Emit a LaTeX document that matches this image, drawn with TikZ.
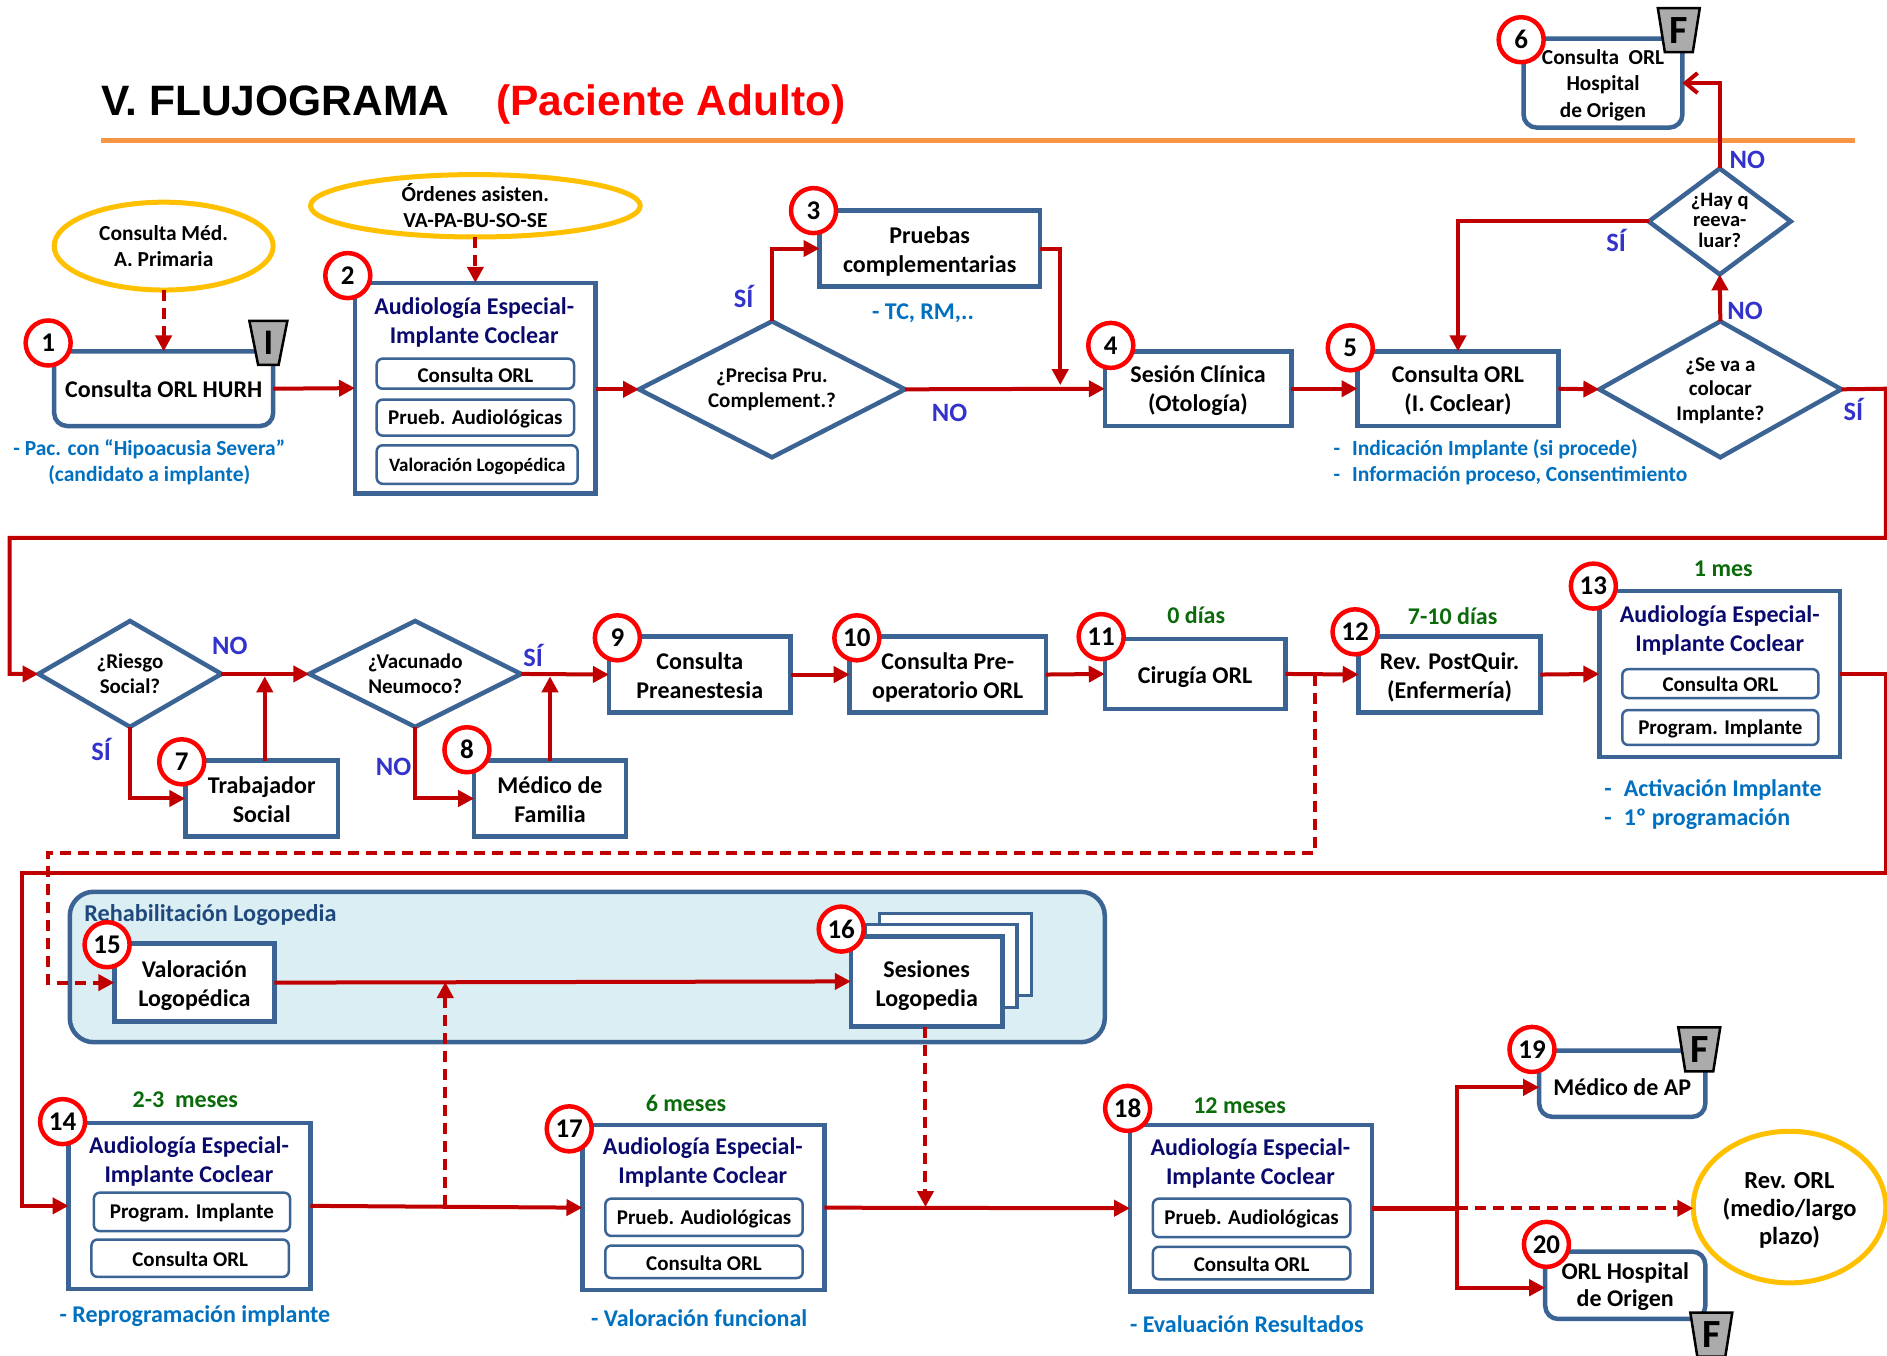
\documentclass[tikz,border=0pt]{standalone}
\usepackage{fontspec}
\setmainfont{Carlito}
\newfontfamily\titlefont{Liberation Sans}
\usetikzlibrary{shapes.geometric,arrows.meta,calc}
\definecolor{bxblue}{HTML}{3B6494}
\definecolor{rline}{HTML}{C00000}
\definecolor{gold}{HTML}{FFC000}
\definecolor{note}{HTML}{0070C0}
\definecolor{yn}{HTML}{3333CC}
\definecolor{grn}{HTML}{0B6B0B}
\definecolor{navyt}{HTML}{0A0A6E}
\definecolor{orangeln}{HTML}{F79646}
\definecolor{grp}{HTML}{DAEEF3}
\definecolor{grpt}{HTML}{1F497D}
\tikzset{
  x=1.2034pt,y=-1.2034pt,
  dn/.style={execute at begin node={\rule{0pt}{#1}}},
  basebox/.style={draw=bxblue,fill=white,line width=4.5pt,inner sep=0pt,outer sep=0pt,align=center,
     font=\bfseries\fontsize{24}{29}\selectfont},
  sqbox/.style={basebox,rectangle},
  rdbox/.style={basebox,rectangle,rounded corners=13pt},
  inbox/.style={draw=bxblue,fill=white,line width=2.5pt,inner sep=0pt,outer sep=0pt,rectangle,rounded corners=6pt,align=center,
     dn=17pt,font=\bfseries\fontsize{21}{24}\selectfont},
  dmd/.style={diamond,draw=bxblue,fill=white,line width=4.5pt,inner sep=0pt,outer sep=0pt,aspect=1.8},
  dtext/.style={align=center,inner sep=0pt,font=\bfseries\fontsize{21}{24.5}\selectfont},
  oval/.style={ellipse,draw=gold,fill=white,line width=5pt,inner sep=0pt,outer sep=0pt,align=center,
     font=\bfseries\fontsize{21.4}{26}\selectfont},
  numc/.style={circle,draw=red,fill=white,line width=4.5pt,inner sep=0pt,outer sep=0pt,minimum size=45pt,
     font=\bfseries\fontsize{27}{27}\selectfont},
  bdg/.style={trapezium,trapezium stretches=true,shape border rotate=180,draw=black,fill=black!33,line width=2.5pt,
     inner sep=0pt,outer sep=0pt,minimum width=42pt,minimum height=44pt,trapezium angle=80,
     font=\bfseries\fontsize{40}{40}\selectfont},
  notet/.style={text=note,align=center,inner sep=0pt,font=\bfseries\fontsize{21.5}{26}\selectfont},
  noteb/.style={notet,font=\bfseries\fontsize{24}{29}\selectfont},
  titlet/.style={text=navyt,align=center,inner sep=0pt,font=\bfseries\fontsize{24}{29}\selectfont},
  grnt/.style={text=grn,inner sep=0pt,font=\bfseries\fontsize{24}{26}\selectfont},
  ynt/.style={text=yn,inner sep=0pt,font=\bfseries\fontsize{26.5}{26}\selectfont},
  conn/.style={draw=rline,line width=4pt,-{Triangle[length=16pt,width=16pt]}},
  plainln/.style={draw=rline,line width=4pt},
  dconn/.style={conn,dash pattern=on 11pt off 7pt},
}
\newcommand\ml[2][3.4pt]{\raisebox{-#1}[\height][\depth]{\begin{tabular}{@{}c@{}}#2\end{tabular}}}
\newcommand\bx[6][]{%
  \pgfmathsetmacro\bxw{(#5-#3)*1.2034}%
  \pgfmathsetmacro\bxh{(#6-#4)*1.2034}%
  \pgfmathsetmacro\bxx{(#3+#5)/2}%
  \pgfmathsetmacro\bxy{(#4+#6)/2}%
  \node[#1,minimum width=\bxw pt,minimum height=\bxh pt] (#2) at (\bxx,\bxy)}
\begin{document}
\begin{tikzpicture}
\useasboundingbox (0,0) rectangle (1568,1126);
\fill[white] (0,0) rectangle (1568,1126);
\clip (0,0) rectangle (1568,1126);

% title
\node[anchor=west,inner sep=0pt,font=\titlefont\bfseries\fontsize{42.5}{42.5}\selectfont] (ttl1) at (84,84) {V. FLUJOGRAMA};
\node[anchor=west,inner sep=0pt,text=red,font=\titlefont\bfseries\fontsize{42.5}{42.5}\selectfont] (ttl2) at (412,87) {(Paciente Adulto)};
\coordinate (ol) at (84,117); \coordinate (or) at (1541,117);
\draw[orangeln,line width=5pt] (ol) -- (or);

% group
\bx[rectangle,draw=bxblue,fill=grp,line width=4.5pt,rounded corners=24pt,inner sep=0pt]{grpbox}{58}{741}{918}{866} {};
\node[anchor=west,text=grpt,inner sep=0pt,font=\bfseries\fontsize{24.2}{26}\selectfont] (grpl) at (70,760.5) {Rehabilitación Logopedia};

% ovals
\bx[oval]{e1}{45}{168}{227}{241} {Consulta Méd.\\A. Primaria};
\bx[oval]{e2}{258}{146}{532}{196} {Órdenes asisten.\\VA-PA-BU-SO-SE};
\bx[oval,font=\bfseries\fontsize{24.5}{28}\selectfont]{e3}{1407}{940}{1567}{1066} {\ml{Rev. ORL\\(medio/largo\\plazo)}};

% boxes row 1
\bx[rdbox]{n1}{45}{292}{227}{354} {Consulta ORL HURH};
\bx[sqbox]{n2}{295}{235}{495}{410} {};
\node[titlet] (t2) at (394,268) {Audiología Especial-\\Implante Coclear};
\bx[inbox]{i2a}{313}{298}{477}{323} {Consulta ORL};
\bx[inbox]{i2b}{313}{332}{477}{362} {Prueb. Audiológicas};
\bx[inbox,font=\bfseries\fontsize{19}{24}\selectfont]{i2c}{313}{370}{480}{402} {Valoración Logopédica};
\bx[sqbox]{n3}{681}{175}{864}{238} {\ml{Pruebas\\complementarias}};
\bx[sqbox]{n4}{918}{292}{1073}{354} {\ml[2.6pt]{Sesión Clínica\\(Otología)}};
\bx[sqbox]{n5}{1128}{292}{1295}{354} {\ml[2.6pt]{Consulta ORL\\(I. Coclear)}};
\bx[rdbox,font=\bfseries\fontsize{21.3}{26.5}\selectfont]{n6}{1266}{32}{1398}{106} {\ml[2.4pt]{Consulta\ \ ORL\\Hospital\\de Origen}};

% diamonds
\bx[dmd]{d1}{531}{267}{752}{380} {};
\node[dtext] (d1t) at (d1) {¿Precisa Pru.\\Complement.?};
\bx[dmd]{d2}{1329}{267}{1530}{380} {};
\node[dtext] (d2t) at ($(d2)+(0,1)$) {¿Se va a\\colocar\\Implante?};
\bx[dmd]{d3}{1370}{140}{1488}{228} {};
\node[dtext,font=\bfseries\fontsize{20.5}{20.5}\selectfont] (d3t) at ($(d3)+(0,-1)$) {¿Hay q\\reeva-\\luar?};
\bx[dmd]{d4}{32}{516}{184}{604} {};
\node[dtext] (d4t) at (d4) {¿Riesgo\\Social?};
\bx[dmd]{d5}{257}{516}{433}{604} {};
\node[dtext] (d5t) at (d5) {¿Vacunado\\Neumoco?};

% boxes row 2
\bx[sqbox]{n7}{154}{632}{281}{695} {\ml{Trabajador\\Social}};
\bx[sqbox]{n8}{394}{632}{520}{695} {\ml{Médico de\\Familia}};
\bx[sqbox]{n9}{506}{529}{657}{592} {\ml{Consulta\\Preanestesia}};
\bx[sqbox]{n10}{706}{529}{869}{592} {\ml{Consulta Pre-\\operatorio ORL}};
\bx[sqbox,dn=23pt]{n11}{918}{531}{1068}{589} {Cirugía ORL};
\bx[sqbox]{n12}{1129}{529}{1280}{592} {\ml{Rev. PostQuir.\\(Enfermería)}};
\bx[sqbox]{n13}{1329}{491}{1529}{629} {};
\node[titlet] (t13) at (1429,524) {Audiología Especial-\\Implante Coclear};
\bx[inbox]{i13a}{1348}{556}{1511}{580} {Consulta ORL};
\bx[inbox]{i13b}{1348}{590}{1511}{619} {Program. Implante};

% rehab
\bx[sqbox]{n15}{95}{784}{228}{849} {\ml{Valoración\\Logopédica}};
\bx[sqbox,line width=3.5pt]{n16c}{731}{759}{857}{827} {};
\bx[sqbox,line width=3.5pt]{n16b}{719}{768}{845}{837} {};
\bx[sqbox]{n16}{707}{778}{833}{853} {\ml[4.4pt]{Sesiones\\Logopedia}};

% row 3
\bx[sqbox]{n14}{57}{933}{258}{1071} {};
\node[titlet] (t14) at (157,965) {Audiología Especial-\\Implante Coclear};
\bx[inbox]{i14a}{78}{991}{241}{1023} {Program. Implante};
\bx[inbox]{i14b}{76}{1030}{240}{1061} {Consulta ORL};
\bx[sqbox]{n17}{484}{935}{685}{1072} {};
\node[titlet] (t17) at (584,966) {Audiología Especial-\\Implante Coclear};
\bx[inbox]{i17a}{503}{996}{667}{1027} {Prueb. Audiológicas};
\bx[inbox]{i17b}{503}{1035}{667}{1062} {Consulta ORL};
\bx[sqbox]{n18}{939}{935}{1140}{1073} {};
\node[titlet] (t18) at (1039,967) {Audiología Especial-\\Implante Coclear};
\bx[inbox]{i18a}{958}{996}{1122}{1028} {Prueb. Audiológicas};
\bx[inbox]{i18b}{958}{1036}{1122}{1063} {Consulta ORL};
\bx[rdbox,dn=23pt]{n19}{1279}{873}{1417}{928} {Médico de AP};
\bx[rdbox,font=\bfseries\fontsize{24}{26.5}\selectfont]{n20}{1284}{1040}{1417}{1096} {\ml[2.4pt]{ORL Hospital\\de Origen}};

% junction coordinates
\coordinate (j3) at (881,320);
\coordinate (jr1) at (1567,323);
\coordinate (jr2) at (1567,447);
\coordinate (jr3) at (8,447);
\coordinate (jr4) at (8,560);
\coordinate (j7) at (220,562);
\coordinate (j8) at (457,562);
\coordinate (j11) at (1093,561);
\coordinate (jd1) at (1093,709);
\coordinate (jd2) at (40,709);
\coordinate (jd3) at (40,816.5);
\coordinate (js1) at (1567,560);
\coordinate (js2) at (1567,725);
\coordinate (js3) at (18,725);
\coordinate (js4) at (18,1002);
\coordinate (j14) at (370,1002);
\coordinate (j15) at (370,816);
\coordinate (j16) at (769,1003);
\coordinate (j18) at (1211,1004);

% connectors
\draw[dconn] (e1.south) -- (n1.north);
\draw[dconn] (e2.south) -- (e2.south |- n2.north);
\draw[conn] (n1.east) -- (n2.west);
\draw[conn] (n2.east |- d1.west) -- (d1.west);
\draw[conn] (d1.north) |- (n3.west);
\draw[conn] (n3.east) -| (j3);
\draw[conn] (d1.east) -- (n4.west);
\draw[conn] (n4.east) -- (n5.west);
\draw[conn] (n5.east) -- (d2.west);
\draw[conn] (d2.north) -- (d3.south);
\draw[conn] (d3.west) -| (n5.north);
\draw[draw=rline,line width=4pt,-{Straight Barb[length=12pt,width=20pt]}] (d3.north) |- (n6.east);
\draw[conn] (d2.east) -- (jr1) -- (jr2) -- (jr3) -- (jr4) -- (d4.west);
\draw[conn] (d4.east) -- (d5.west);
\draw[conn] (d5.east) -- (n9.west);
\draw[conn] (d4.south) |- (n7.west);
\draw[conn] (d5.south) |- (n8.west);
\draw[conn] (n7.north -| j7) -- (j7);
\draw[conn] (n8.north -| j8) -- (j8);
\draw[conn] (n9.east) -- (n10.west);
\draw[conn] (n10.east) -- (n11.west);
\draw[conn] (n11.east) -- (n12.west);
\draw[conn] (n12.east) -- (n13.west);
\draw[dconn] (j11) -- (jd1) -- (jd2) -- (jd3) -- (n15.west);
\draw[conn] (n13.east) -- (js1) -- (js2) -- (js3) -- (js4) -- (n14.west);
\draw[conn] (n15.east) -- (n16.west);
\draw[conn] (n14.east) -- (n17.west);
\draw[dconn] (j14) -- (j15);
\draw[conn] (n17.east) -- (n18.west);
\draw[dconn] (n16.south -| j16) -- (j16);
\draw[plainln,line width=5.5pt] (n18.east) -- (j18);
\draw[conn] (j18) |- ($(n19.west)+(0,3)$);
\draw[conn] (j18) |- ($(n20.west)+(0,2)$);
\draw[dconn] (j18) -- (j18 -| e3.west);

% texts
\node[notet] (nt1) at (124,384.5) {- Pac. con “Hipoacusia Severa”\\(candidato a implante)};
\node[noteb] (nt3) at (767,260) {- TC, RM,..};
\node[notet,anchor=west,align=left] (nt5) at (1108,384) {-\hspace{12pt}Indicación Implante (si procede)\\-\hspace{12pt}Información proceso, Consentimiento};
\node[noteb,anchor=west,align=left] (nt13) at (1333,668.5) {-\hspace{12pt}Activación Implante\\-\hspace{12pt}1º programación};
\node[noteb] (nt14) at (162,1094) {- Reprogramación implante};
\node[noteb] (nt17) at (581,1095) {- Valoración funcional};
\node[noteb] (nt18) at (1036,1100) {- Evaluación Resultados};
\node[grnt] (g11) at (994,511) {0 días};
\node[grnt] (g12) at (1207,512) {7-10 días};
\node[grnt] (g13) at (1432,473) {1 mes};
\node[grnt] (g14) at (154,914) {2-3\ \ meses};
\node[grnt] (g17) at (570,917) {6 meses};
\node[grnt] (g18) at (1030,919) {12 meses};
\node[ynt] (y1) at (618,246) {SÍ};
\node[ynt] (y2) at (789,343) {NO};
\node[ynt] (y3) at (1450,258) {NO};
\node[ynt] (y4) at (1343,200) {SÍ};
\node[ynt] (y5) at (1452,133) {NO};
\node[ynt] (y6) at (1540,340) {SÍ};
\node[ynt] (y7) at (191,537) {NO};
\node[ynt] (y8) at (84,623) {SÍ};
\node[ynt] (y9) at (443,545) {SÍ};
\node[ynt] (y10) at (327,637) {NO};

% badges
\node[bdg,minimum width=38pt,font=\bfseries\fontsize{36}{36}\selectfont] (bI) at (223,285) {I};
\node[bdg] (bF6) at (1395,25) {F};
\node[bdg] (bF19) at (1412,872) {F};
\node[bdg] (bF20) at (1422,1109) {F};

% numbers
\node[numc] (c1) at (40,285) {1};
\node[numc] (c2) at (289,229) {2};
\node[numc] (c3) at (676,175) {3};
\node[numc] (c4) at (923,287) {4};
\node[numc] (c5) at (1122,289) {5};
\node[numc] (c6) at (1264,33) {6};
\node[numc] (c7) at (151,633) {7};
\node[numc] (c8) at (388,623) {8};
\node[numc] (c9) at (513,530) {9};
\node[numc] (c10) at (712,530) {10};
\node[numc] (c11) at (915,529) {11};
\node[numc] (c12) at (1126,525) {12};
\node[numc] (c13) at (1324,487) {13};
\node[numc] (c14) at (52,932) {14};
\node[numc] (c15) at (89,785) {15};
\node[numc] (c16) at (699,772) {16};
\node[numc] (c17) at (473,938) {17};
\node[numc] (c18) at (937,921) {18};
\node[numc] (c19) at (1273,872) {19};
\node[numc] (c20) at (1285,1034) {20};
\end{tikzpicture}
\end{document}
